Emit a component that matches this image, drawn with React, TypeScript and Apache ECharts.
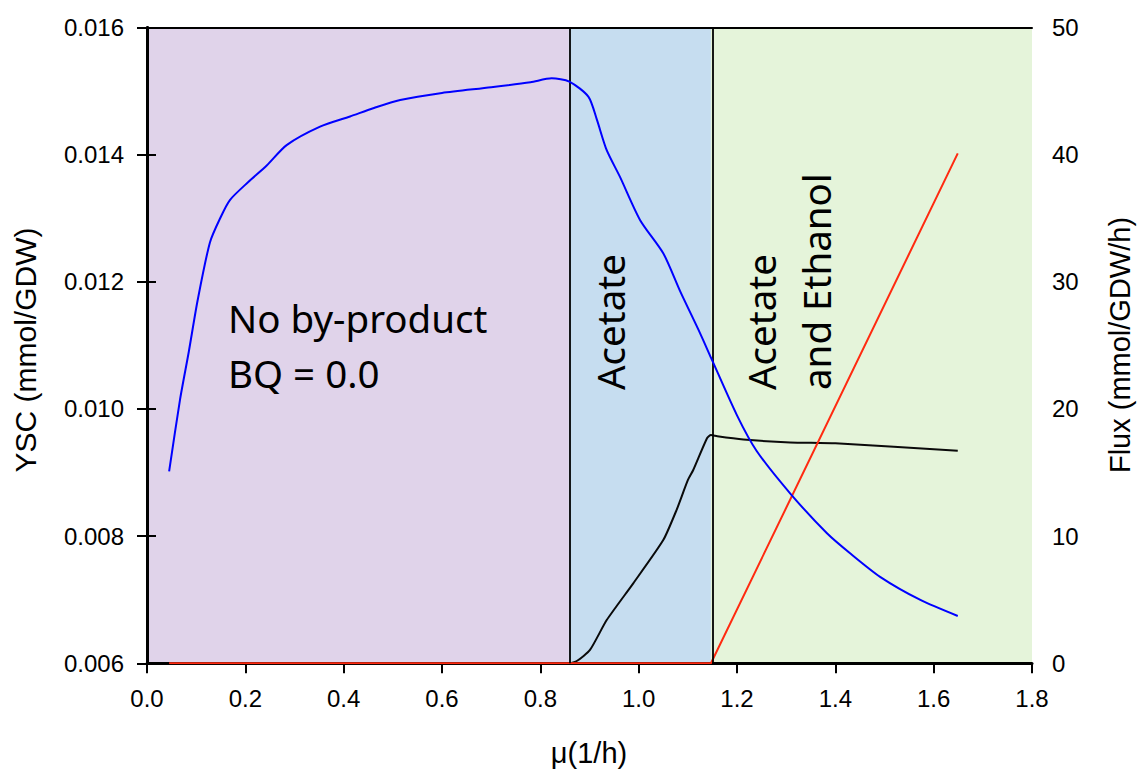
import { useEffect, useRef } from "react";
import * as echarts from "echarts";

// Specific growth rate μ (1/h) and biomass yield on substrate YSC (mmol/GDW)
const yscMu = [
  0.045, 0.067, 0.085, 0.103, 0.128, 0.15, 0.169, 0.206, 0.2435, 0.284, 0.352, 0.413, 0.46,
  0.515, 0.6, 0.7, 0.78, 0.823, 0.859, 0.898, 0.915, 0.935, 0.962, 1.003, 1.05, 1.0845,
  1.125, 1.1475, 1.2, 1.24, 1.308, 1.383, 1.43, 1.491, 1.573, 1.649,
];
const yscValues = [
  0.00902, 0.01014, 0.0109, 0.01171, 0.01262, 0.01302, 0.01329, 0.01357, 0.01383, 0.01415,
  0.01444, 0.0146, 0.01473, 0.01486, 0.01497, 0.01506, 0.01514, 0.0152, 0.01515, 0.01491,
  0.01455, 0.01407, 0.01365, 0.01297, 0.01245, 0.01185, 0.01119, 0.0108, 0.0099, 0.00934,
  0.008674, 0.008045, 0.00773, 0.00736, 0.006996, 0.006744,
];

// Acetate secretion flux (mmol/GDW/h)
const acetateMu = [
  0.045, 0.858, 0.875, 0.901, 0.935, 0.989, 1.05, 1.077, 1.1, 1.111, 1.139, 1.147, 1.16,
  1.213, 1.308, 1.4, 1.649,
];
const acetateFlux = [
  0, 0, 0.2, 1.05, 3.4, 6.29, 9.69, 12.05, 14.4, 15.2, 17.7, 17.95, 17.85, 17.6, 17.37, 17.3,
  16.71,
];

// Ethanol secretion flux (mmol/GDW/h)
const ethanolMu = [0.045, 1.147, 1.649];
const ethanolFlux = [0, 0, 40.1];

// Metabolic regimes along μ
const regionEdges = [0, 0.858, 1.147, 1.8];
const regionNames = ["No by-product\nBQ = 0.0", "Acetate", "Acetate\nand Ethanol"];

// Axis ranges and tick steps
const muRange = [0, 1.8, 0.2];
const yscRange = [0.006, 0.016, 0.002];
const fluxRange = [0, 50, 10];

const pairs = (xs: number[], ys: number[]) => xs.map((x, i) => [x, ys[i]]);

export default function App() {
  const ref = useRef<HTMLDivElement>(null);

  useEffect(() => {
    if (!ref.current) return;
    document.body.style.margin = "0";
    const chart = echarts.init(ref.current, null, { renderer: "svg" });

    const tickFont = { fontFamily: "Liberation Sans", fontSize: 24, color: "#000" };
    const axisLine = { show: true, lineStyle: { color: "#000", width: 3 } };
    const axisTick = { show: true, length: 10, lineStyle: { color: "#000", width: 2 } };
    const regionColors = ["#e0d3ea", "#c6ddf0", "#e5f4da"];
    const labelFont = "38.5px 'Noto Sans'";
    const titleFont = "29px 'Liberation Sans'";

    chart.setOption({
      animation: false,
      backgroundColor: "#fff",
      grid: { left: 147, right: 107, top: 27.5, bottom: 107.7 },
      xAxis: [
        {
          type: "value",
          min: muRange[0],
          max: muRange[1],
          interval: muRange[2],
          z: 2,
          axisLine,
          axisTick,
          splitLine: { show: false },
          axisLabel: { ...tickFont, margin: 23, formatter: (v: number) => v.toFixed(1) },
        },
        {
          type: "value",
          position: "top",
          min: muRange[0],
          max: muRange[1],
          z: 2,
          axisLine: { show: true, lineStyle: { color: "#000", width: 2 } },
          axisTick: { show: false },
          axisLabel: { show: false },
          splitLine: { show: false },
        },
      ],
      yAxis: [
        {
          type: "value",
          min: yscRange[0],
          max: yscRange[1],
          interval: yscRange[2],
          z: 2,
          axisLine,
          axisTick,
          splitLine: { show: false },
          axisLabel: { ...tickFont, margin: 23, formatter: (v: number) => v.toFixed(3) },
        },
        {
          type: "value",
          position: "right",
          min: fluxRange[0],
          max: fluxRange[1],
          interval: fluxRange[2],
          z: 2,
          axisLine,
          axisTick: { ...axisTick, length: 9 },
          splitLine: { show: false },
          axisLabel: { ...tickFont, margin: 20 },
        },
      ],
      series: [
        {
          name: "regions",
          type: "line",
          data: [],
          z: 1,
          silent: true,
          markArea: {
            silent: true,
            label: { show: false },
            data: regionColors.map((c, i) => [
              { xAxis: regionEdges[i], itemStyle: { color: c } },
              { xAxis: regionEdges[i + 1] },
            ]),
          },
          markLine: {
            silent: true,
            symbol: "none",
            label: { show: false },
            lineStyle: { color: "#000", width: 1.8, type: "solid" },
            data: [{ xAxis: regionEdges[1] }, { xAxis: regionEdges[2] }],
          },
        },
        {
          name: "Acetate",
          type: "line",
          yAxisIndex: 1,
          z: 3,
          showSymbol: false,
          smooth: 0.2,
          lineStyle: { color: "#0a0a0a", width: 2 },
          data: pairs(acetateMu, acetateFlux),
        },
        {
          name: "Ethanol",
          type: "line",
          yAxisIndex: 1,
          z: 4,
          showSymbol: false,
          lineStyle: { color: "#ff2a10", width: 2 },
          data: pairs(ethanolMu, ethanolFlux),
        },
        {
          name: "YSC",
          type: "line",
          yAxisIndex: 0,
          z: 5,
          showSymbol: false,
          smooth: 0.25,
          lineStyle: { color: "#0000ff", width: 2 },
          data: pairs(yscMu, yscValues),
        },
      ],
      graphic: [
        {
          type: "text",
          x: 228,
          y: 345.5,
          z: 10,
          style: {
            text: regionNames[0],
            font: labelFont,
            fill: "#000",
            align: "left",
            verticalAlign: "middle",
            lineHeight: 55,
          },
        },
        {
          type: "text",
          x: 610,
          y: 390,
          rotation: Math.PI / 2,
          z: 10,
          style: {
            text: regionNames[1],
            font: labelFont,
            fill: "#000",
            align: "left",
            verticalAlign: "middle",
          },
        },
        {
          type: "text",
          x: 788,
          y: 390,
          rotation: Math.PI / 2,
          z: 10,
          style: {
            text: regionNames[2],
            font: labelFont,
            fill: "#000",
            align: "left",
            verticalAlign: "middle",
            lineHeight: 55,
          },
        },
        {
          type: "text",
          x: 25,
          y: 350,
          rotation: Math.PI / 2,
          style: {
            text: "YSC (mmol/GDW)",
            font: "30px 'Liberation Sans'",
            fill: "#000",
            align: "center",
            verticalAlign: "middle",
          },
        },
        {
          type: "text",
          x: 1120,
          y: 345,
          rotation: Math.PI / 2,
          style: {
            text: "Flux (mmol/GDW/h)",
            font: titleFont,
            fill: "#000",
            align: "center",
            verticalAlign: "middle",
          },
        },
        {
          type: "text",
          x: 589,
          y: 753,
          style: {
            text: "μ(1/h)",
            font: titleFont,
            fill: "#000",
            align: "center",
            verticalAlign: "middle",
          },
        },
      ],
    });

    return () => chart.dispose();
  }, []);

  return (
    <div
      ref={ref}
      style={{ position: "fixed", left: 0, top: 0, width: 1139, height: 771 }}
    />
  );
}
